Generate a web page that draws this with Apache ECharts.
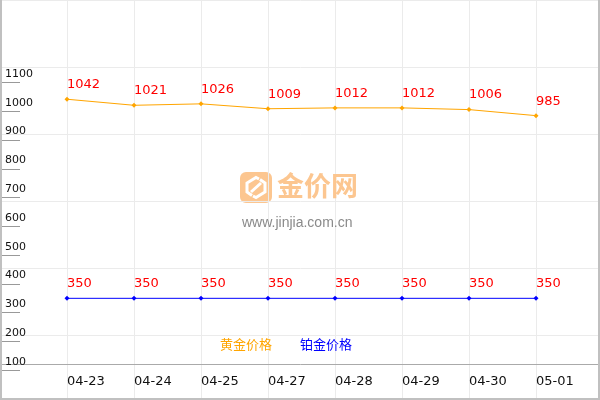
<!DOCTYPE html>
<html>
<head>
<meta charset="utf-8">
<script src="https://cdn.jsdelivr.net/npm/echarts@6/dist/echarts.min.js"></script>
<style>html,body{margin:0;padding:0;background:#fff;}#c{width:600px;height:400px;}</style>
</head>
<body>
<div id="c"></div>
<script>
const categories = ['04-23','04-24','04-25','04-27','04-28','04-29','04-30','05-01'];
const goldPrices = [1042,1021,1026,1009,1012,1012,1006,985];
const platinumPrices = [350,350,350,350,350,350,350,350];
const yTickValues = [100,200,300,400,500,600,700,800,900,1000,1100];
const seriesNames = ['黄金价格','铂金价格'];

const FONT = 'DejaVu Sans, Verdana, "Noto Sans CJK SC", sans-serif';
const toPoints = arr => arr.map((v, i) => [i + 1, v]);

const chart = echarts.init(document.getElementById('c'));
const labelCfg = {
  show: true, position: 'top', distance: 12, align: 'left', verticalAlign: 'middle',
  color: '#ff0000', fontSize: 13, fontFamily: FONT
};
chart.setOption({
  animation: false,
  backgroundColor: '#ffffff',
  grid: [
    {left: 0, top: 0, width: 603, height: 399, containLabel: false, outerBoundsMode: 'none'},
    {left: 0, top: 0, width: 603, height: 402, containLabel: false, outerBoundsMode: 'none'}
  ],
  xAxis: [
    {
      type: 'value', gridIndex: 0, min: 0, max: 9, interval: 1, offset: -35,
      axisLine: {show: true, lineStyle: {color: '#aaaaaa', width: 1}},
      axisTick: {show: false},
      axisLabel: {
        show: true, margin: 11, align: 'left', fontSize: 13, color: '#111', fontFamily: FONT,
        formatter: v => categories[v - 1] || ''
      },
      splitLine: {show: true, lineStyle: {color: '#ebebeb', width: 1}}
    },
    {
      type: 'value', gridIndex: 1, min: 0, max: 9, show: false
    }
  ],
  yAxis: [
    {
      type: 'value', gridIndex: 0, min: 0, max: 1387,
      axisLine: {show: false},
      axisTick: {show: true, inside: true, length: 20, customValues: yTickValues, lineStyle: {color: '#999999'}},
      axisLabel: {
        show: true, inside: true, margin: 5, verticalAlign: 'bottom', padding: [0, 0, 3, 0],
        customValues: yTickValues, fontSize: 11, color: '#111', fontFamily: FONT,
        formatter: v => String(v)
      },
      splitLine: {show: false}
    },
    {
      type: 'value', gridIndex: 1, min: 0, max: 6, interval: 1,
      axisLine: {show: false}, axisTick: {show: false}, axisLabel: {show: false},
      splitLine: {show: true, lineStyle: {color: '#ebebeb', width: 1}}
    }
  ],
  legend: {
    left: 210, top: 332, icon: 'none', itemWidth: 0, itemHeight: 14, itemGap: 23,
    textStyle: {fontSize: 13, fontFamily: 'Noto Sans CJK SC'},
    data: [
      {name: seriesNames[0], textStyle: {color: '#ffa500'}},
      {name: seriesNames[1], textStyle: {color: '#0000ff'}}
    ]
  },
  graphic: [
    {
      type: 'group', left: 240, top: 172, z: 1,
      children: [
        {type: 'rect', shape: {x: 0, y: 0, width: 32, height: 31, r: 6}, style: {fill: '#fcc690'}},
        {type: 'polyline', shape: {points: [[19,7],[16,5.5],[7,11],[7,20],[12,23.5]]}, style: {stroke: '#fff', lineWidth: 3, fill: null}},
        {type: 'polyline', shape: {points: [[13,24],[16,25.5],[25,20],[25,11],[20,7.5]]}, style: {stroke: '#fff', lineWidth: 3, fill: null}},
        {type: 'line', shape: {x1: 11, y1: 20, x2: 21, y2: 11}, style: {stroke: '#fff', lineWidth: 3}}
      ]
    },
    {
      type: 'text', left: 277, top: 172, z: 1,
      style: {text: '金价网', fill: '#fcc690', font: 'bold 27px "Noto Sans CJK SC", sans-serif'}
    },
    {
      type: 'text', left: 242, top: 216, z: 1,
      style: {text: 'www.jinjia.com.cn', fill: '#8a8a8a', font: '14px "Liberation Sans", Arial, sans-serif'}
    },
    {
      type: 'polyline', z: 10, silent: true,
      shape: {points: [[1,0],[1,399],[599,399],[599,0]]},
      style: {stroke: '#c0c0c0', lineWidth: 2, fill: null}
    }
  ],
  series: [
    {
      name: seriesNames[0], type: 'line', xAxisIndex: 0, yAxisIndex: 0,
      data: toPoints(goldPrices), color: '#ffa500',
      lineStyle: {width: 1, color: '#ffa500'},
      symbol: 'diamond', symbolSize: 5, itemStyle: {color: '#ffa500'},
      label: labelCfg, z: 5
    },
    {
      name: seriesNames[1], type: 'line', xAxisIndex: 0, yAxisIndex: 0,
      data: toPoints(platinumPrices), color: '#0000ff',
      lineStyle: {width: 1, color: '#0000ff'},
      symbol: 'diamond', symbolSize: 5, itemStyle: {color: '#0000ff'},
      label: labelCfg, z: 5
    }
  ]
});
</script>
</body>
</html>
